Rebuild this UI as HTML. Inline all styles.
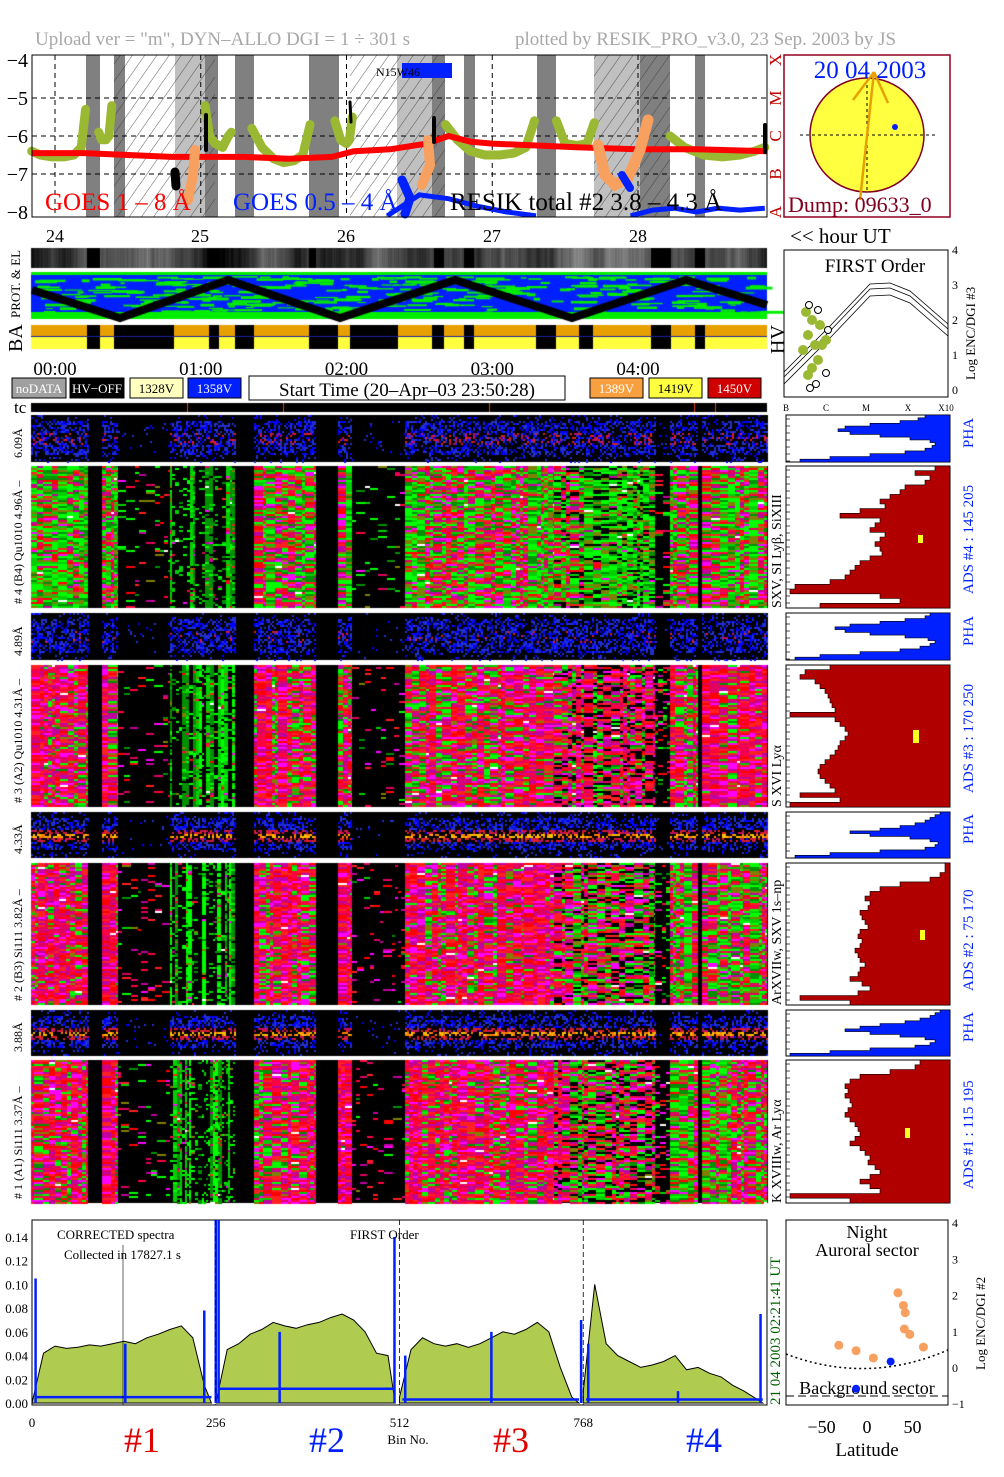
<!DOCTYPE html>
<html><head><meta charset="utf-8">
<style>
body{margin:0;background:#fff;width:1004px;height:1477px;overflow:hidden;position:relative;font-family:"Liberation Serif",serif}
canvas,svg{position:absolute;left:0;top:0}
</style></head>
<body>
<canvas id="cv" width="1004" height="1477"></canvas>
<svg id="sv" width="1004" height="1477" xmlns="http://www.w3.org/2000/svg" font-family="Liberation Serif, serif">
<defs>
<pattern id="hatch" width="10" height="10" patternUnits="userSpaceOnUse" patternTransform="rotate(35)"><line x1="0" y1="0" x2="0" y2="10" stroke="#333" stroke-width="0.8"/></pattern>
</defs>
<text x="35" y="45" font-size="19" fill="#a8a8a8">Upload ver = "m", DYN–ALLO DGI =   1 ÷ 301 s</text>
<text x="515" y="45" font-size="19" fill="#a8a8a8">plotted by RESIK_PRO_v3.0, 23 Sep. 2003 by JS</text>
<g id="goes"></g>
<g id="sun"></g>
<g id="mid"></g>
<g id="right"></g>
<g id="spec"></g>
<g id="lat"></g>
</svg>
<script>
// ---------------- data ----------------
const goesRedT=[-0.16,0.2,0.5,0.8,1.0,1.3,1.6,1.9,2.05,2.3,2.55,2.7,2.85,3.0,3.3,3.6,4.0,4.4,4.88];
const goesRedV=[-6.45,-6.45,-6.5,-6.55,-6.55,-6.55,-6.6,-6.55,-6.4,-6.35,-6.2,-6.0,-6.15,-6.2,-6.25,-6.3,-6.35,-6.35,-6.4];
const resikT=[[-0.16,-0.1,-0.02,0.06,0.13,0.18,0.21],[0.30,0.32,0.35,0.37,0.39],[1.03,1.06,1.1,1.15,1.19,1.21],[1.35,1.42,1.5,1.57,1.64,1.7,1.75],[1.92,1.96,2.0,2.02,2.04],[2.68,2.76,2.85,2.95,3.05,3.15,3.23,3.29],[3.44,3.5,3.58,3.65,3.70],[4.22,4.32,4.45,4.58,4.7,4.8,4.87]];
const resikV=[[-6.4,-6.5,-6.55,-6.55,-6.5,-6.3,-5.3],[-5.9,-6.1,-6.1,-6.0,-5.2],[-5.2,-6.0,-6.2,-6.3,-6.0,-5.9],[-5.8,-6.3,-6.6,-6.7,-6.65,-6.5,-5.7],[-5.6,-6.1,-6.2,-6.1,-5.5],[-5.7,-6.1,-6.4,-6.5,-6.5,-6.45,-6.3,-5.6],[-5.6,-6.2,-6.25,-6.2,-5.65],[-6.0,-6.3,-6.5,-6.55,-6.5,-6.4,-6.3]];
const goesBlueT=[[2.28,2.4,2.5,2.7,2.9,3.1,3.3],[3.95,4.1,4.25,4.4,4.55,4.7,4.87]];
const goesBlueV=[[-8.1,-7.8,-7.55,-7.65,-7.85,-8.0,-8.1],[-8.1,-7.95,-7.9,-8.0,-7.9,-7.95,-7.9]];
const specBins=[];for(let b=0;b<1024;b+=16)specBins.push(b);
const specVals=[0.0,0.042,0.048,0.046,0.047,0.049,0.048,0.05,0.052,0.05,0.055,0.058,0.062,0.065,0.055,0.015,
0.0,0.045,0.05,0.058,0.062,0.068,0.065,0.063,0.066,0.068,0.072,0.075,0.07,0.06,0.042,0.04,
0.005,0.045,0.055,0.05,0.048,0.05,0.047,0.05,0.055,0.06,0.058,0.062,0.068,0.06,0.03,0.005,
0.01,0.1,0.05,0.04,0.035,0.03,0.032,0.035,0.04,0.028,0.03,0.025,0.022,0.015,0.01,0.004];
const blueBase=[0.005,0.012,0.003,0.003];
const spikeBins=[5,130,240,256,260,345,505,520,640,765,775,900,1015];
const spikeVals=[0.105,0.05,0.078,0.155,0.155,0.06,0.14,0.04,0.06,0.07,0.05,0.01,0.075];
const specTicks=["0.00","0.02","0.04","0.06","0.08","0.10","0.12","0.14"];
const pha1Edge=[925,918,900,870,845,838,850,880,910,930,935,932,925,905,870,830,800];
const pha2Edge=[930,925,905,880,850,835,845,870,905,928,935,930,920,900,860,820,795];
const pha3Edge=[940,935,930,925,915,900,880,850,870,910,930,938,935,925,880,830,795];
const pha4Edge=[940,935,930,920,905,880,860,845,870,900,925,935,930,915,870,830,790];
const red4Edge=[935,915,930,925,905,900,890,880,885,860,840,880,875,870,885,880,875,880,882,870,860,855,850,845,830,795,790,880,900,820];
const red3Edge=[830,805,800,815,820,825,828,830,832,835,790,835,840,845,848,845,840,838,835,830,825,820,818,820,825,830,835,800,840,790];
const red2Edge=[945,945,940,930,900,880,870,865,870,868,860,862,865,868,860,858,862,860,855,858,860,865,860,858,850,862,870,858,800,850];
const red1Edge=[920,915,890,860,850,845,848,845,850,852,848,845,850,855,858,860,855,850,860,865,870,868,875,880,870,860,870,880,790,850];
const latOrangeLat=[34,40,42,41,47,62,-31,-12,7];
const latOrangeLog=[2.05,1.7,1.5,1.05,0.9,0.55,0.6,0.45,0.25];
const latBlueLat=[26,-12];
const latBlueLog=[0.15,-0.6];

// ---------------- helpers ----------------
const NS="http://www.w3.org/2000/svg";
function mk(tag,attrs,parent){const e=document.createElementNS(NS,tag);for(const k in attrs)e.setAttribute(k,attrs[k]);parent.appendChild(e);return e;}
function txt(parent,x,y,s,size,fill,extra){const e=mk('text',Object.assign({x:x,y:y,'font-size':size,fill:fill||'#000'},extra||{}),parent);e.textContent=s;return e;}
let seed=12345;function rnd(){seed=(seed*1664525+1013904223)>>>0;return seed/4294967296;}
const ctx=document.getElementById('cv').getContext('2d');

const tx=t=>55+t*145.75;
const gy=v=>60+(-4-v)*38;

// ---------------- GOES panel ----------------
const G=document.getElementById('goes');
mk('rect',{x:32,y:55,width:735,height:162,fill:'#fff'},G);
const darkBands=[[86,100],[114,125],[205,218],[235,254],[309,339],[432,445],[464,475],[537,556],[640,670],[695,705]];
const lightBands=[[175,205],[397,432],[594,640]];
for(const b of lightBands){const e=mk('rect',{x:b[0],y:55,width:b[1]-b[0],height:162,fill:'#c0c0c0'},G);

}
for(const b of darkBands){const e=mk('rect',{x:b[0],y:55,width:b[1]-b[0],height:162,fill:'#808080'},G);

}
for(const b of [[114,215],[350,445],[594,670]]){const e=mk('rect',{x:b[0],y:55,width:b[1]-b[0],height:162,fill:'url(#hatch)'},G);

}
for(const v of [-5,-6,-7]){const e=mk('line',{x1:32,x2:767,y1:gy(v),y2:gy(v),stroke:'#000','stroke-dasharray':'5,4','stroke-width':1},G);

}
for(const t of [0,1,2,3,4]){const e=mk('line',{x1:tx(t),x2:tx(t),y1:55,y2:217,stroke:'#000','stroke-dasharray':'5,4'},G);

}
function pts(T,V){return T.map((t,i)=>tx(t).toFixed(1)+','+gy(V[i]).toFixed(1)).join(' ');}
for(let s=0;s<resikT.length;s++){const e=mk('polyline',{points:pts(resikT[s],resikV[s]),fill:'none',stroke:'#9ab832','stroke-width':9,'stroke-linejoin':'round','stroke-linecap':'round'},G);

}
let red=mk('polyline',{points:pts(goesRedT,goesRedV),fill:'none',stroke:'#ff0000','stroke-width':6},G);


const clipR=mk('clipPath',{id:'gclip'},G);mk('rect',{x:32,y:55,width:735,height:162},clipR);
for(let s=0;s<goesBlueT.length;s++){const e=mk('polyline',{points:pts(goesBlueT[s],goesBlueV[s]),fill:'none',stroke:'#0020ff','stroke-width':5,'clip-path':'url(#gclip)'},G);

}
const blobs=[['#f8a060',10,'195,150 193,175 188,200'],['#f8a060',10,'428,140 430,165 422,185'],['#f8a060',11,'598,145 605,175 615,185 628,178 640,150 648,120'],['#0020ff',9,'402,180 410,198 405,214'],['#0020ff',8,'622,175 630,188'],['#000',9,'175,172 176,186'],['#000',4,'206,115 206,150'],['#000',4,'434,118 434,142'],['#000',3,'350,102 351,122'],['#000',4,'765,125 765,152']];
for(const b of blobs){const e=mk('polyline',{points:b[2],fill:'none',stroke:b[0],'stroke-width':b[1],'stroke-linecap':'round'},G);

}
mk('rect',{x:32,y:55,width:735,height:162,fill:'none',stroke:'#000'},G);
mk('rect',{x:402,y:63,width:50,height:15,fill:'#0020ff'},G);
txt(G,376,76,'N15W46',12,'#000');
[[-4,'−4'],[-5,'−5'],[-6,'−6'],[-7,'−7'],[-8,'−8']].forEach(d=>{const e=txt(G,28,gy(d[0])+7,d[1],20,'#000',{'text-anchor':'end'});

});
['X','M','C','B','A'].forEach((c,i)=>{const y=gy(-4-i);const e=txt(G,0,0,c,17,'#c00000',{transform:`translate(781,${y}) rotate(-90)`,'text-anchor':'middle'});

});
txt(G,45,210,'GOES 1 – 8 Å',25,'#ff0000');
txt(G,233,210,'GOES 0.5 – 4 Å',25,'#0020ff');
txt(G,450,210,'RESIK total #2  3.8 – 4.3 Å',25,'#000');
[['24',55],['25',200],['26',346],['27',492],['28',638]].forEach(d=>{const e=txt(G,d[1],242,d[0],18,'#000',{'text-anchor':'middle'});

});
txt(G,790,243,'<< hour UT',21,'#000');

// ---------------- Sun ----------------
const S=document.getElementById('sun');
mk('rect',{x:784,y:55,width:166,height:162,fill:'#fff',stroke:'#900020','stroke-width':1.5},S);
mk('circle',{cx:867,cy:135,r:57,fill:'#ffff40',stroke:'#800020','stroke-width':1.5},S);
mk('line',{x1:800,x2:935,y1:135,y2:135,stroke:'#000','stroke-dasharray':'3,3'},S);
mk('line',{x1:867,x2:867,y1:85,y2:190,stroke:'#000','stroke-dasharray':'3,3'},S);
for(const p of [[853,100],[888,103],[860,200]]){const e=mk('line',{x1:874,y1:72,x2:p[0],y2:p[1],stroke:'#e8a000','stroke-width':2.5},S);

}
mk('circle',{cx:895,cy:127,r:3,fill:'#0020ff'},S);
txt(S,870,78,'20 04 2003',25,'#0020ff',{'text-anchor':'middle'});
txt(S,788,212,'Dump: 09633_0',22,'#800020');

// ---------------- textures ----------------
const segs=[[31,88,1],[88,102,0],[102,118,1],[118,170,0.1],[170,235,0.6],[235,254,0],[254,316,1],[316,338,0],[338,352,1],[352,405,0.08],[405,554,1],[554,584,0.85],[584,655,1],[655,670,0.2],[670,698,1],[698,702,0],[702,767,1]];
const greens=['#00ff00','#00d000','#009000','#808000','#00ff00'];
const reds=['#ff0000','#ff0040','#e00060','#ff00ff','#c000a0','#ff2020'];
function bigPanel(y0,y1,gBase,gRight){
  ctx.fillStyle='#000';ctx.fillRect(31,y0,737,y1-y0);
  for(const s of segs){
    if(s[2]===0)continue;
    let x=s[0];
    const thin=s[2]>0.5&&s[2]<0.7;
    while(x<s[1]){
      let w=thin?2+Math.floor(rnd()*3):3+Math.floor(rnd()*7);
      if(x+w>s[1])w=s[1]-x;
      let g=(x>560?gRight:gBase)+(rnd()-0.5)*0.6;
      if(thin)g=0.8;
      if(s[0]===584&&gBase>0.4)g=0.9;
      const dens=thin?(rnd()<0.5?0.9:0.15):s[2];
      const colColor=thin?greens[Math.floor(rnd()*3)]:null;
      for(let y=y0;y<y1;y+=2){
        if(rnd()>dens)continue;
        let c;const q=rnd();
        if(q<0.006)c='#ffffff';
        else if(colColor&&rnd()<0.7)c=colColor;
        else if(q<g)c=greens[Math.floor(rnd()*greens.length)];else c=reds[Math.floor(rnd()*reds.length)];
        if(s[0]===584&&rnd()<0.2)c='#000';
        ctx.fillStyle=c;ctx.fillRect(x,y,w,2);
      }
      x+=w;
    }
  }
}
function phaPanel(y0,y1,hot){
  ctx.fillStyle='#000';ctx.fillRect(31,y0,737,y1-y0);
  const h=y1-y0;
  for(const s of segs){
    const d=s[2];
    for(let x=s[0];x<s[1];x+=2){
      for(let y=y0;y<y1;y+=2){
        const f=(y-y0)/h;
        let p=(d>=0.6?0.5:(d>0?0.04:0));
        if(f<0.12||f>0.82)p*=0.25;
        if(rnd()>p)continue;
        let c=rnd()<0.5?'#0000ff':'#2030d0';
        if(d>=0.6&&f>0.35&&f<0.62&&rnd()<hot)c=rnd()<0.5?'#e02020':'#c01060';
        if(hot>0.5&&d>=0.6&&f>0.44&&f<0.56)c=rnd()<0.5?'#ff8000':'#ffc000';
        ctx.fillStyle=c;ctx.fillRect(x,y,2,2);
      }
    }
  }
}
// grayscale strip
const gaps=[[87,100],[114,174],[209,219],[235,254],[309,338],[350,398],[432,444],[464,474],[536,556],[579,593],[651,671],[695,705]];
let gv=40;
for(let x=31;x<767;x++){
  gv+= (rnd()-0.5)*30; gv=Math.max(0,Math.min(180,gv*0.97+2));
  const v=Math.floor(gv*(0.6+0.4*Math.abs(Math.sin(x/19))));
  ctx.fillStyle=`rgb(${v},${v},${v})`;ctx.fillRect(x,248,1,20);
}
for(const g of [[87,100],[209,219],[309,316],[434,444],[464,474],[651,671],[695,705]]){ctx.fillStyle='#000';ctx.fillRect(g[0],248,g[1]-g[0],20);}
// PROT panel
ctx.fillStyle='#0020ff';ctx.fillRect(31,272,736,47);
ctx.fillStyle='#00ee00';ctx.fillRect(31,272,736,3);ctx.fillRect(31,312,736,7);
for(let i=0;i<320;i++){const x=31+rnd()*730,y=276+rnd()*36;ctx.fillStyle='#00ee00';ctx.fillRect(x,y,4+rnd()*25,1+rnd()*2);}
ctx.strokeStyle='#000';ctx.lineWidth=8;ctx.beginPath();
[[32,290],[120,318],[228,280],[340,318],[455,280],[572,318],[686,280],[767,305]].forEach((p,i)=>i?ctx.lineTo(p[0],p[1]):ctx.moveTo(p[0],p[1]));ctx.stroke();
// BA strip
ctx.fillStyle='#e8a000';ctx.fillRect(31,325,736,12);ctx.fillStyle='#ffff40';ctx.fillRect(31,337,736,12);
ctx.fillStyle='#000';for(const g of gaps)ctx.fillRect(g[0],325,g[1]-g[0],24);
ctx.fillStyle='#2020a0';ctx.fillRect(31,336,736,1);
// tc strip
ctx.fillStyle='#000';ctx.fillRect(31,403,736,9);
ctx.fillStyle='#e04000';for(const x of [187,283,489,694,715])ctx.fillRect(x,403,1,9);
// spectrogram panels
phaPanel(415,462,0.35);bigPanel(466,608,0.6,0.6);
phaPanel(613,660,0.1);bigPanel(665,807,0.22,0.3);
phaPanel(812,858,0.9);bigPanel(863,1005,0.18,0.5);
phaPanel(1010,1056,0.9);bigPanel(1060,1203,0.18,0.45);

// ---------------- middle labels ----------------
const M=document.getElementById('mid');
txt(M,0,0,'PROT. & EL',13,'#000',{transform:'translate(20,318) rotate(-90)'});
txt(M,0,0,'BA',20,'#000',{transform:'translate(22,352) rotate(-90)'});
txt(M,0,0,'HV',20,'#000',{transform:'translate(784,354) rotate(-90)'});
[['00:00',0],['01:00',1],['02:00',2],['03:00',3],['04:00',4]].forEach(d=>{const e=txt(M,tx(d[1]),375,d[0],19,'#000',{'text-anchor':'middle'});

});
const leg=[[12,54,'#a0a0a0','noDATA','#fff'],[70,54,'#000','HV−OFF','#fff'],[130,53,'#ffffc0','1328V','#000'],[188,53,'#0020ff','1358V','#fff'],[590,53,'#f8a040','1389V','#fff'],[649,53,'#ffff40','1419V','#000'],[708,53,'#d00000','1450V','#fff']];
for(const l of leg){const e=mk('rect',{x:l[0],y:378,width:l[1],height:20,fill:l[2],stroke:'#000'},M);


const t=txt(M,l[0]+l[1]/2,393,l[3],13,l[4],{'text-anchor':'middle'});

}
mk('rect',{x:249,y:376,width:316,height:24,fill:'#fff',stroke:'#000'},M);
txt(M,407,396,'Start Time (20–Apr–03 23:50:28)',19,'#000',{'text-anchor':'middle'});
txt(M,14,413,'tc',17,'#000');
const leftLabels=[[462,'6.09Å'],[608,'# 4 (B4) Qu1010 4.96Å –'],[660,'4.89Å'],[807,'# 3 (A2) Qu1010 4.31Å –'],[858,'4.33Å'],[1005,'# 2 (B3) Si111 3.82Å –'],[1056,'3.88Å'],[1203,'# 1 (A1) Si111 3.37Å –']];
for(const l of leftLabels){const e=txt(M,0,0,l[1],12,'#000',{transform:`translate(22,${l[0]-4}) rotate(-90)`});

}
const ions=[[608,'SXV, SI Lyβ, SiXIII'],[807,'S XVI Lyα'],[1005,'ArXVIIw, SXV 1s–np'],[1203,'K XVIIIw, Ar Lyα']];
for(const l of ions){const e=txt(M,0,0,l[1],14,'#000',{transform:`translate(781,${l[0]}) rotate(-90)`});

}
const ads=[[462,'PHA'],[608,'ADS #4 :  145 205'],[660,'PHA'],[807,'ADS #3 :  170 250'],[858,'PHA'],[1005,'ADS #2 :   75 170'],[1056,'PHA'],[1203,'ADS #1 :  115 195']];
for(const l of ads){const e=txt(M,0,0,l[1],15,'#0020ff',{transform:`translate(973,${l[0]-14}) rotate(-90)`});

}

// ---------------- right profile panels ----------------
const R=document.getElementById('right');
function profile(edge,y0,y1,color,name){
  mk('rect',{x:786,y:y0,width:164,height:y1-y0,fill:'#fff',stroke:'#000'},R);
  const n=edge.length,h=(y1-y0)/n;let d=`M950,${y0}`;
  edge.forEach((x,i)=>{d+=` L${x},${(y0+i*h).toFixed(1)} L${x},${(y0+(i+1)*h).toFixed(1)}`;});
  d+=` L950,${y1} Z`;
  const e=mk('path',{d:d,fill:color,stroke:'#000','stroke-width':0.6},R);
  
  
  for(let y=y0+4;y<y1;y+=7)mk('line',{x1:786,x2:790,y1:y,y2:y,stroke:'#000','stroke-width':0.7},R);
}
profile(pha1Edge,415,462,'#0020ff','pha-profile-4');
profile(red4Edge,466,608,'#b00000','ads-profile-4');
profile(pha2Edge,613,660,'#0020ff','pha-profile-3');
profile(red3Edge,665,807,'#b00000','ads-profile-3');
profile(pha3Edge,812,858,'#0020ff','pha-profile-2');
profile(red2Edge,863,1005,'#b00000','ads-profile-2');
profile(pha4Edge,1010,1056,'#0020ff','pha-profile-1');
profile(red1Edge,1060,1203,'#b00000','ads-profile-1');
for(const y of [[918,535,5,8],[913,730,6,13],[920,930,5,10],[905,1128,5,10]])mk('rect',{x:y[0],y:y[1],width:y[2],height:y[3],fill:'#ffff20'},R);
[['B',786],['C',826],['M',866],['X',908],['X10',946]].forEach(d=>{const e=txt(R,d[1],411,d[0],9,'#000',{'text-anchor':'middle'});

});
mk('rect',{x:784,y:250,width:164,height:147,fill:'#fff',stroke:'#000'},R);
txt(R,875,272,'FIRST Order',19,'#000',{'text-anchor':'middle'});
for(const off of [0,5,12]){const e=mk('polyline',{points:`784,${372+off} 830,${326+off} 870,${284+off} 890,${283+off} 910,${291+off} 948,${324+off}`,fill:'none',stroke:'#000','stroke-width':0.8},R);

}
for(const p of [[806,312],[812,320],[808,335],[815,345],[822,345],[818,360],[812,368],[808,375],[820,325],[826,340],[803,350]]){mk('circle',{cx:p[0],cy:p[1],r:5,fill:'#9ab832'},R);}
for(const p of [[809,305],[818,310],[828,330],[826,373],[810,388],[816,384]])mk('circle',{cx:p[0],cy:p[1],r:3.5,fill:'#fff',stroke:'#000'},R);
['0','1','2','3','4'].forEach((s,i)=>txt(R,952,394-i*35,s,12,'#000'));
txt(R,0,0,'Log ENC/DGI #3',13,'#000',{transform:'translate(975,380) rotate(-90)'});

// ---------------- spectrum ----------------
const P=document.getElementById('spec');
const bx=b=>32+b*735/1024,sy=v=>1403-v*1186;
mk('rect',{x:32,y:1220,width:735,height:185,fill:'#fff',stroke:'#000'},P);
for(let s=0;s<4;s++){
  let d=`M${bx(s*256)},${sy(0)}`;
  for(let i=s*16;i<s*16+16;i++)d+=` L${bx(specBins[i]).toFixed(1)},${sy(specVals[i]).toFixed(1)}`;
  d+=` L${bx(s*256+250).toFixed(1)},${sy(0)} Z`;
  const e=mk('path',{d:d,fill:'#b0cc50',stroke:'#000','stroke-width':1},P);
  
  
  const bl=mk('line',{x1:bx(s*256+4),x2:bx(s*256+250),y1:sy(blueBase[s]),y2:sy(blueBase[s]),stroke:'#0020ff','stroke-width':2.5},P);
  
  
}
for(let i=0;i<spikeBins.length;i++){const e=mk('line',{x1:bx(spikeBins[i]),x2:bx(spikeBins[i]),y1:sy(0),y2:Math.max(1220,sy(spikeVals[i])),stroke:'#0020ff','stroke-width':2.5},P);

}
for(const b of [256,512,768]){const e=mk('line',{x1:bx(b),x2:bx(b),y1:1220,y2:1405,stroke:'#000','stroke-dasharray':'5,3','stroke-width':0.8},P);

}
mk('line',{x1:123,x2:123,y1:1245,y2:1405,stroke:'#000','stroke-width':0.6},P);
specTicks.forEach((s,i)=>{const e=txt(P,28,sy(i*0.02)+5,s,13,'#000',{'text-anchor':'end'});

});
[['0',0],['256',256],['512',512],['768',768]].forEach(d=>{const e=txt(P,bx(d[1]),1427,d[0],13,'#000',{'text-anchor':'middle'});

});
txt(P,408,1444,'Bin No.',13,'#000',{'text-anchor':'middle'});
txt(P,57,1239,'CORRECTED spectra',13,'#000');
txt(P,64,1259,'Collected in 17827.1 s',13,'#000');
txt(P,350,1239,'FIRST Order',13,'#000');
txt(P,0,0,'21 04 2003        02:21:41 UT',15,'#006000',{transform:'translate(780,1405) rotate(-90)'});
[['#1',142,'#e00000'],['#2',327,'#0020ff'],['#3',511,'#e00000'],['#4',704,'#0020ff']].forEach(d=>{const e=txt(P,d[1],1452,d[0],36,d[2],{'text-anchor':'middle'});

});

// ---------------- latitude ----------------
const L=document.getElementById('lat');
const lx=v=>867+v*0.91,ly=v=>1367-v*36.2;
mk('rect',{x:786,y:1220,width:162,height:185,fill:'#fff',stroke:'#000'},L);
txt(L,867,1238,'Night',18,'#000',{'text-anchor':'middle'});
txt(L,867,1256,'Auroral sector',18,'#000',{'text-anchor':'middle'});
txt(L,867,1394,'Background sector',18,'#000',{'text-anchor':'middle'});
mk('path',{d:'M786,1354 Q867,1385 948,1350',fill:'none',stroke:'#000','stroke-dasharray':'2,3','stroke-width':1.5},L);
mk('line',{x1:786,x2:948,y1:1396,y2:1396,stroke:'#000','stroke-dasharray':'8,4'},L);
for(let i=0;i<latOrangeLat.length;i++){const e=mk('circle',{cx:lx(latOrangeLat[i]),cy:ly(latOrangeLog[i]),r:4.5,fill:'#f8a060'},L);

}
for(let i=0;i<latBlueLat.length;i++){const e=mk('circle',{cx:lx(latBlueLat[i]),cy:ly(latBlueLog[i]),r:4,fill:'#0020ff'},L);

}
[['−50',-50],['0',0],['50',50]].forEach(d=>{const e=txt(L,lx(d[1]),1433,d[0],18,'#000',{'text-anchor':'middle'});

});
txt(L,867,1456,'Latitude',19,'#000',{'text-anchor':'middle'});
['−1','0','1','2','3','4'].forEach((s,i)=>{const e=txt(L,952,ly(i-1)+5,s,12,'#000');

});
txt(L,0,0,'Log ENC/DGI #2',13,'#000',{transform:'translate(985,1370) rotate(-90)'});
</script>
</body></html>
